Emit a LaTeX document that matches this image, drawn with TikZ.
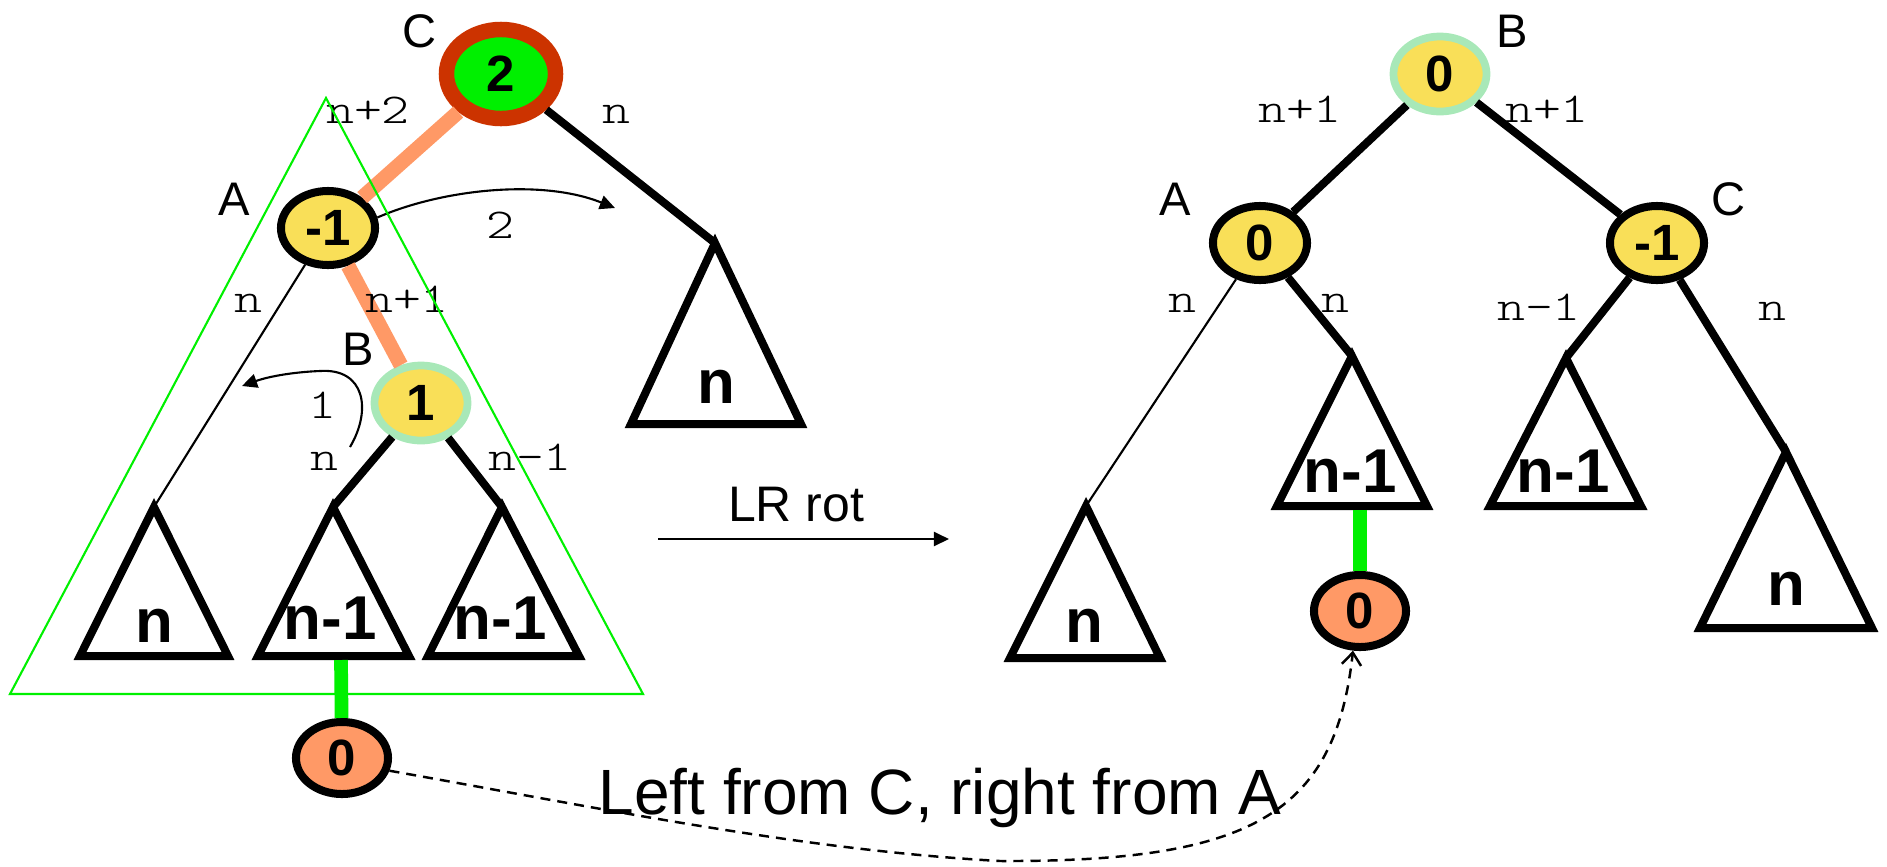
\documentclass[tikz,border=0pt]{standalone}
\usepackage{fontspec}
\setmainfont{Liberation Sans}
\newfontfamily\lblfont[FakeStretch=1.25]{lmmonolt10-regular.otf}
\usetikzlibrary{shapes.geometric,arrows.meta}
\definecolor{yel}{HTML}{F9DF58}
\definecolor{org}{HTML}{FF9966}
\definecolor{lgr}{HTML}{A8E8B8}
\definecolor{cred}{HTML}{CC3300}
\definecolor{grn}{HTML}{00F000}
\newcommand{\mlab}[1]{{\fontsize{12.1}{13}\lblfont #1}}
\begin{document}
\begin{tikzpicture}[x=0.01cm,y=-0.01cm,
  bal/.style={ellipse, draw=black, line width=2.28pt, fill=yel, inner sep=0pt,
    minimum width=0.94cm, minimum height=0.74cm, font=\fontsize{14.5}{15}\selectfont\bfseries},
  balg/.style={bal, draw=lgr, line width=2.2pt, minimum width=0.93cm, minimum height=0.75cm},
  rootn/.style={bal, draw=cred, fill=grn, line width=4.4pt, minimum width=1.09cm, minimum height=0.89cm},
  newn/.style={bal, fill=org, minimum width=0.92cm, minimum height=0.72cm},
  sub/.style={draw=black, line width=2.28pt, line join=miter},
  sublab/.style={anchor=base, inner sep=0pt, font=\fontsize{17.6}{18}\selectfont\bfseries},
  ml/.style={anchor=base, inner sep=0pt},
  nm/.style={anchor=base, inner sep=0pt, font=\fontsize{13.4}{14}\selectfont},
  bedge/.style={draw=black, line width=2.28pt},
  tedge/.style={draw=black, line width=0.6pt},
  oedge/.style={draw=org, line width=4.2pt},
  gedge/.style={draw=grn, line width=3.9pt},
  arr/.style={draw=black, line width=0.6pt, -{Triangle[length=4.3pt,width=4pt]}},
  darr/.style={draw=black, line width=0.7pt, dash pattern=on 2.85pt off 2pt, -{Straight Barb[length=3.5pt,width=5.5pt]}}
]
\useasboundingbox (0,0) rectangle (1887,866);

% ---------- left tree ----------
\node[rootn] (C) at (501,74) {2};
\node[bal] (A) at (328,228) {-1};
\node[balg] (B) at (421,403) {1};
\node[newn] (O1) at (342,758) {0};

\coordinate (t1) at (154,507);
\coordinate (t2) at (333,507);
\coordinate (t3) at (502,507);
\coordinate (t4) at (715,243);
\draw[sub] (t1) -- ++(-74,149) -- ++(148,0) -- cycle;
\draw[sub] (t2) -- ++(-75,149) -- ++(151,0) -- cycle;
\draw[sub] (t3) -- ++(-74,149) -- ++(151,0) -- cycle;
\draw[sub] (t4) -- ++(-84,181) -- ++(170,0) -- cycle;
\node[sublab] at (154,642) {n};
\node[sublab] at (330,639) {n-1};
\node[sublab] at (500,639) {n-1};
\node[sublab] at (716,403) {n};

\draw[oedge] (C) -- (A);
\draw[oedge] (A) -- (B);
\draw[tedge] (A) -- (t1);
\draw[bedge] (C) -- (t4);
\draw[bedge] (B) -- (t2);
\draw[bedge] (B) -- (t3);
\coordinate (g1) at (341,660);
\draw[gedge] (g1) -- (O1);

\node[ml] at (368,123) {\mlab{n+2}};
\node[ml] at (616,123) {\mlab{n}};
\node[ml] at (500,238) {\mlab{2}};
\node[ml] at (248,312) {\mlab{n}};
\node[ml] at (407,312) {\mlab{n+1}};
\node[ml] at (322,418) {\mlab{1}};
\node[ml] at (324,470) {\mlab{n}};
\node[ml] at (530,470) {\mlab{n-1}};

\node[nm] at (420,47) {C};
\node[nm] at (234,215) {A};
\node[nm] at (358,365) {B};

\coordinate (a2) at (615,208);
\draw[arr] (A.12) .. controls (440,190) and (540,178) .. (a2);
\coordinate (b1) at (350,447);
\coordinate (b2) at (242,386);
\draw[arr] (b1) .. controls (372,410) and (365,368) .. (320,371) .. controls (295,372) and (270,376) .. (b2);

\draw[draw=grn, line width=0.6pt] (326,98) -- (10,694) -- (643,694) -- cycle;

% ---------- rotation arrow ----------
\node[anchor=base, inner sep=0pt, font=\fontsize{14.2}{15}\selectfont] (lr) at (796,521) {LR rot};
\coordinate (r1) at (658,539);
\coordinate (r2) at (949,539);
\draw[arr] (r1) -- (r2);

% ---------- right tree ----------
\node[balg] (B2) at (1440,74) {0};
\node[bal] (A2) at (1260,243) {0};
\node[bal] (C2) at (1657,243) {-1};
\node[newn] (O2) at (1360,611) {0};

\coordinate (t5) at (1086,506);
\coordinate (t6) at (1352,356);
\coordinate (t7) at (1566,358);
\coordinate (t8) at (1786,452);
\draw[sub] (t5) -- ++(-76,152) -- ++(150,0) -- cycle;
\draw[sub] (t6) -- ++(-75,150) -- ++(150,0) -- cycle;
\draw[sub] (t7) -- ++(-76,148) -- ++(151,0) -- cycle;
\draw[sub] (t8) -- ++(-86,176) -- ++(172,0) -- cycle;
\node[sublab] at (1084,642) {n};
\node[sublab] at (1350,492) {n-1};
\node[sublab] at (1563,492) {n-1};
\node[sublab] at (1786,605) {n};

\draw[bedge] (B2) -- (A2);
\draw[bedge] (B2) -- (C2);
\draw[tedge] (A2) -- (t5);
\draw[bedge] (A2) -- (t6);
\draw[bedge] (C2) -- (t7);
\draw[bedge] (C2) -- (t8);
\coordinate (g2) at (1360,510);
\draw[gedge] (g2) -- (O2);

\node[ml] at (1300,122) {\mlab{n+1}};
\node[ml] at (1547,122) {\mlab{n+1}};
\node[ml] at (1182,312) {\mlab{n}};
\node[ml] at (1335,312) {\mlab{n}};
\node[ml] at (1539,320) {\mlab{n-1}};
\node[ml] at (1772,320) {\mlab{n}};

\node[nm] at (1512,47) {B};
\node[nm] at (1175,215) {A};
\node[nm] at (1728,215) {C};

% ---------- moved node ----------
\draw[darr] (O1.345) .. controls (600,808) and (800,850) .. (1000,861) .. controls (1250,862) and (1335,815) .. (O2.260);
\node[anchor=base, inner sep=0pt, font=\fontsize{18.2}{19}\selectfont] at (940,814) {Left from C, right from A};
\end{tikzpicture}
\end{document}
